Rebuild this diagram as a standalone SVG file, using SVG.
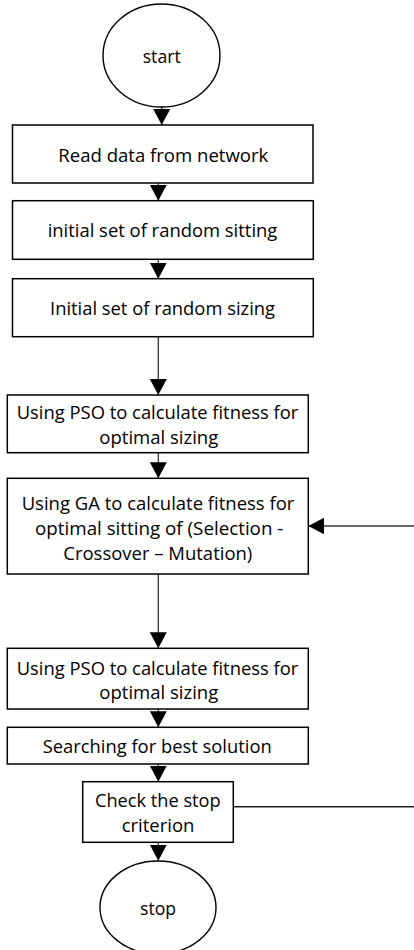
<svg xmlns="http://www.w3.org/2000/svg" width="414" height="950" viewBox="0 0 414 950">
<style>
  .box { fill: #ffffff; stroke: #000000; stroke-width: 1.5; }
  .term { fill: #ffffff; stroke: #000000; stroke-width: 1.4; }
  .lbl { font-family: "Open Sans", "Liberation Sans", sans-serif; font-size: 18.5px; fill: #000000; text-anchor: middle; }
  .conn { fill: none; stroke: #333333; stroke-width: 1.3; marker-end: url(#arr); }
  .line { fill: none; stroke: #222222; stroke-width: 1.4; }
</style>
<defs>
  <marker id="arr" markerUnits="userSpaceOnUse" markerWidth="17" markerHeight="18" refX="16" refY="8.5" orient="auto">
    <path d="M0,0 L16,8.5 L0,17 z" fill="#000000"/>
  </marker>
</defs>
<rect width="414" height="950" fill="#ffffff"/>

<g id="connectors">
  <line class="conn" x1="161.7" y1="107" x2="161.7" y2="125"/>
  <line class="conn" x1="158.3" y1="183" x2="158.3" y2="200.7"/>
  <line class="conn" x1="158.3" y1="259.3" x2="158.3" y2="278.7"/>
  <line class="conn" x1="158.3" y1="336.7" x2="158.3" y2="395"/>
  <line class="conn" x1="158.3" y1="452.7" x2="158.3" y2="478.3"/>
  <line class="conn" x1="158.3" y1="574" x2="158.3" y2="648.3"/>
  <line class="conn" x1="158.3" y1="709" x2="158.3" y2="727.3"/>
  <line class="conn" x1="158.3" y1="764" x2="158.3" y2="781.7"/>
  <line class="conn" x1="158.3" y1="842.3" x2="158.3" y2="860.7"/>
  <line class="conn" x1="414" y1="526" x2="308.3" y2="526"/>
  <line class="line" x1="233.3" y1="806.7" x2="414" y2="806.7"/>
</g>

<g id="start">
  <ellipse class="term" cx="161.5" cy="55.5" rx="58.5" ry="51.5"/>
  <text class="lbl" x="161.7" y="62.7" textLength="38" lengthAdjust="spacingAndGlyphs">start</text>
</g>

<g id="read-data">
  <rect class="box" x="12.5" y="125" width="300.5" height="58"/>
  <text class="lbl" x="163.3" y="162.3" textLength="210" lengthAdjust="spacingAndGlyphs">Read data from network</text>
</g>

<g id="random-sitting">
  <rect class="box" x="12.5" y="200.7" width="300.8" height="58.6"/>
  <text class="lbl" x="162.5" y="237.3" textLength="229.7" lengthAdjust="spacingAndGlyphs">initial set of random sitting</text>
</g>

<g id="random-sizing">
  <rect class="box" x="12.5" y="278.7" width="300.8" height="58"/>
  <text class="lbl" x="162.5" y="315" textLength="225" lengthAdjust="spacingAndGlyphs">Initial set of random sizing</text>
</g>

<g id="pso-1">
  <rect class="box" x="7.3" y="395" width="301" height="57.7"/>
  <text class="lbl" x="157.5" y="419.3" textLength="281.6" lengthAdjust="spacingAndGlyphs">Using PSO to calculate fitness for</text>
  <text class="lbl" x="158.8" y="443.5" textLength="119" lengthAdjust="spacingAndGlyphs">optimal sizing</text>
</g>

<g id="ga">
  <rect class="box" x="7.3" y="478.3" width="301" height="95.7"/>
  <text class="lbl" x="158" y="510" textLength="272.7" lengthAdjust="spacingAndGlyphs">Using GA to calculate fitness for</text>
  <text class="lbl" x="159.2" y="535" textLength="248.3" lengthAdjust="spacingAndGlyphs">optimal sitting of (Selection -</text>
  <text class="lbl" x="157.8" y="559.5" textLength="189" lengthAdjust="spacingAndGlyphs">Crossover – Mutation)</text>
</g>

<g id="pso-2">
  <rect class="box" x="7.3" y="648.3" width="301" height="60.7"/>
  <text class="lbl" x="157.5" y="675" textLength="281.6" lengthAdjust="spacingAndGlyphs">Using PSO to calculate fitness for</text>
  <text class="lbl" x="158.8" y="698.5" textLength="119" lengthAdjust="spacingAndGlyphs">optimal sizing</text>
</g>

<g id="search">
  <rect class="box" x="7.3" y="727.3" width="301" height="36.7"/>
  <text class="lbl" x="157.2" y="753.3" textLength="229" lengthAdjust="spacingAndGlyphs">Searching for best solution</text>
</g>

<g id="check">
  <rect class="box" x="82.7" y="781.7" width="150.6" height="60.6"/>
  <text class="lbl" x="157.8" y="806.7" textLength="125.7" lengthAdjust="spacingAndGlyphs">Check the stop</text>
  <text class="lbl" x="158" y="831.7" textLength="72.7" lengthAdjust="spacingAndGlyphs">criterion</text>
</g>

<g id="stop">
  <ellipse class="term" cx="158" cy="907.5" rx="58" ry="46.5"/>
  <text class="lbl" x="158" y="915" textLength="36" lengthAdjust="spacingAndGlyphs">stop</text>
</g>
</svg>
